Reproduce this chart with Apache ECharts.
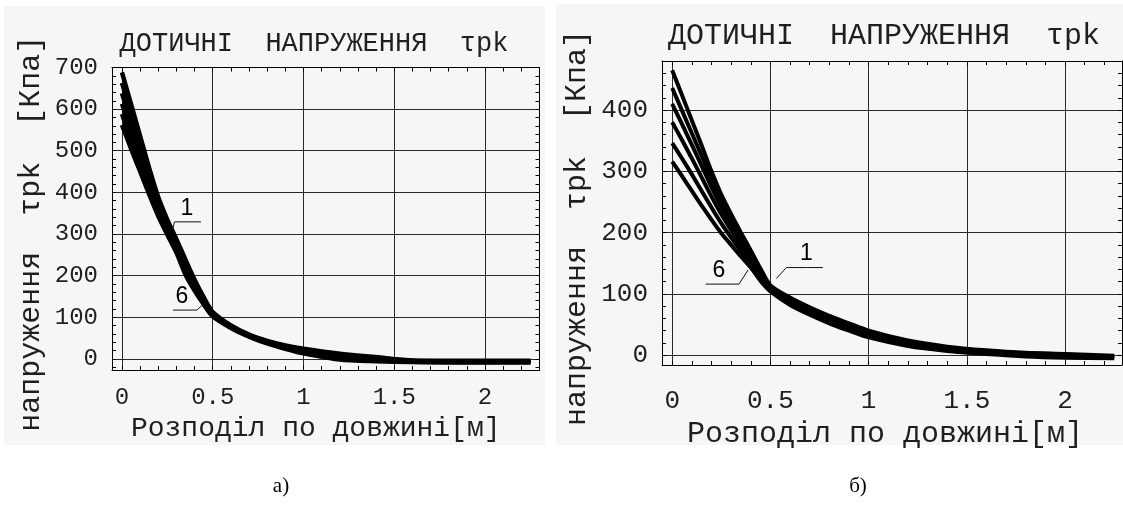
<!DOCTYPE html>
<html>
<head>
<meta charset="utf-8">
<title>Дотичні напруження τpk</title>
<script src="https://cdn.jsdelivr.net/npm/echarts@6/dist/echarts.min.js"></script>
<style>
  html, body { margin: 0; padding: 0; background: #ffffff; }
  #chart { width: 1123px; height: 509px; }
</style>
</head>
<body>
<div id="chart"></div>
<script>
// Position along the element, m (shared by every curve)
const dist = [0, 0.05, 0.1, 0.15, 0.2, 0.25, 0.3, 0.35, 0.4, 0.45, 0.5, 0.6, 0.7, 0.8, 0.9, 1.0, 1.2, 1.4, 1.6, 1.8, 2.0, 2.25];

// Panel а): tangential stress τpk, kPa, curves 1..6
const tauA1 = [688, 612, 535, 458, 388, 334, 287, 238, 190, 148, 112, 80, 58, 43, 32, 24, 12, 4, -4, -5, -5, -5];
const tauA2 = [663, 591, 519, 446, 379, 327, 281, 231, 184, 144, 110, 79, 57, 42, 30, 21, 8, 2, -5, -6, -6, -6];
const tauA3 = [638, 570, 502, 433, 369, 320, 274, 224, 178, 140, 108, 78, 56, 41, 28, 19, 5, 0, -6, -6, -7, -6];
const tauA4 = [613, 549, 485, 420, 360, 312, 267, 217, 173, 137, 106, 77, 55, 40, 27, 17, 2, -2, -6, -7, -7, -7];
const tauA5 = [588, 527, 468, 408, 351, 305, 261, 209, 168, 134, 104, 76, 54, 38, 25, 15, 0, -4, -7, -8, -8, -8];
const tauA6 = [562, 505, 450, 395, 343, 298, 255, 202, 164, 131, 102, 74, 53, 37, 24, 13, -2, -6, -8, -9, -9, -9];

// Panel б): tangential stress τpk, kPa, curves 1..6
const tauB1 = [465, 424, 383, 342, 300, 262, 230, 200, 171, 141, 114, 94, 78, 64, 52, 40, 24, 14, 8, 4, 2, -1];
const tauB2 = [436, 399, 362, 325, 287, 252, 222, 194, 166, 137, 112, 92, 76, 62, 50, 38, 22, 12, 7, 3, 1, -2];
const tauB3 = [410, 377, 343, 309, 274, 242, 214, 187, 161, 133, 110, 90, 74, 60, 47, 35, 20, 11, 5, 1, 0, -2];
const tauB4 = [380, 351, 321, 290, 259, 230, 204, 179, 155, 129, 108, 87, 71, 57, 45, 33, 18, 9, 4, 0, -2, -3];
const tauB5 = [346, 321, 295, 268, 241, 215, 192, 170, 149, 125, 106, 85, 69, 55, 42, 31, 17, 8, 3, -1, -3, -4];
const tauB6 = [316, 292, 268, 244, 221, 199, 180, 161, 143, 121, 104, 82, 66, 52, 40, 29, 15, 7, 2, -2, -4, -5];

// Curve-number callouts: leader polylines in data units, label on the marked vertex
const leaderA1 = [[0.278, 309], [0.289, 329], [0.358, 329], [0.435, 329]];
const leaderA6 = [[0.281, 117], [0.330, 117], [0.413, 117], [0.4625, 137]];
const leaderB6 = [[0.170, 116], [0.238, 116], [0.340, 116], [0.386, 139]];
const leaderB1 = [[0.530, 125], [0.581, 143], [0.683, 143], [0.767, 143]];

const titleText = 'ДОТИЧНІ  НАПРУЖЕННЯ  τpk';
const xName = 'Розподіл по довжині[м]';
const yName = 'напруження  τpk  [Кпа]';

const MONO = '"Liberation Mono", "DejaVu Sans Mono", monospace';
const INK = '#1f1f1f';

// Evenly spaced values for the fine tick marks along the frame
function steps(from, to, step) {
  const out = [];
  for (let v = from; v <= to + step / 1000; v += step) out.push(Math.round(v * 1000) / 1000);
  return out;
}
const fineTicksX = steps(0, 2.3, 0.1);
const fineTicksYA = steps(-20, 700, 20);
const fineTicksYB = steps(0, 480, 20);

function mainX(grid, min, max, labelSize, labelMargin, nameSize, nameGap, namePad) {
  return {
    type: 'value', gridIndex: grid, position: 'bottom', min: min, max: max, splitNumber: 5,
    axisLine: { show: true, onZero: false, lineStyle: { color: '#000', width: 1 } },
    axisTick: { show: false },
    splitLine: { show: true, lineStyle: { color: '#2a2a2a', width: 1 } },
    axisLabel: { show: true, showMinLabel: false, showMaxLabel: false, fontFamily: MONO,
                 fontSize: labelSize, color: INK, margin: labelMargin },
    name: xName, nameLocation: 'middle', nameGap: nameGap,
    nameTextStyle: { fontFamily: MONO, fontSize: nameSize, color: INK, padding: namePad }
  };
}
function mainY(grid, min, max, split, labelSize, labelMargin, nameSize, nameGap, namePad, hideMax) {
  return {
    type: 'value', gridIndex: grid, position: 'left', min: min, max: max, splitNumber: split,
    axisLine: { show: true, onZero: false, lineStyle: { color: '#000', width: 1 } },
    axisTick: { show: false },
    splitLine: { show: true, lineStyle: { color: '#2a2a2a', width: 1 } },
    axisLabel: { show: true, showMinLabel: false, showMaxLabel: !hideMax, fontFamily: MONO,
                 fontSize: labelSize, color: INK, margin: labelMargin },
    name: yName, nameLocation: 'middle', nameGap: nameGap, nameRotate: 90,
    nameTextStyle: { fontFamily: MONO, fontSize: nameSize, color: INK, padding: namePad }
  };
}
function frameAxis(grid, pos, min, max, ticks, showLine) {
  return {
    type: 'value', gridIndex: grid, position: pos, min: min, max: max,
    axisLine: { show: showLine, onZero: false, lineStyle: { color: '#000', width: 1 } },
    axisTick: { show: true, inside: true, length: 4, customValues: ticks, lineStyle: { color: '#000', width: 1 } },
    axisLabel: { show: false },
    splitLine: { show: false }
  };
}

function curve(values, xi, yi, width) {
  return {
    type: 'line', xAxisIndex: xi, yAxisIndex: yi,
    data: dist.map((d, i) => [d, values[i]]),
    showSymbol: false, symbol: 'none', smooth: 0.25,
    lineStyle: { color: '#000', width: width }, silent: true, z: 3
  };
}
function leader(points, labelIdx, text, xi, yi) {
  return {
    type: 'line', xAxisIndex: xi, yAxisIndex: yi, silent: true, z: 4,
    symbol: 'circle', symbolSize: 0, showSymbol: true,
    itemStyle: { color: '#111' },
    lineStyle: { color: '#111', width: 1 },
    label: { show: false },
    data: points.map((p, i) => i === labelIdx
      ? { value: p, label: { show: true, formatter: text, position: 'top', distance: 2,
          fontFamily: '"Liberation Sans", Arial, sans-serif', fontSize: 23, color: '#000' } }
      : { value: p })
  };
}

const chart = echarts.init(document.getElementById('chart'), null, { renderer: 'canvas' });

chart.setOption({
  backgroundColor: '#ffffff',
  animation: false,
  grid: [
    { left: 112, top: 67.5, width: 427.5, height: 302.5, containLabel: false },
    { left: 662, top: 61, width: 460, height: 304, containLabel: false }
  ],
  xAxis: [
    mainX(0, -0.055, 2.3, 24, 16, 28, 41, [0, 20, 0, 0]),
    frameAxis(0, 'top', -0.055, 2.3, fineTicksX, true),
    frameAxis(0, 'bottom', -0.055, 2.3, fineTicksX, false),
    mainX(1, -0.052, 2.29, 26, 23, 30, 42, [0, 14, 0, 0]),
    frameAxis(1, 'top', -0.052, 2.29, fineTicksX, true),
    frameAxis(1, 'bottom', -0.052, 2.29, fineTicksX, false)
  ],
  yAxis: [
    mainY(0, -27, 700, 7, 24, 14, 30, 66, [0, 30, 0, 0], false),
    frameAxis(0, 'right', -27, 700, fineTicksYA, true),
    frameAxis(0, 'left', -27, 700, fineTicksYA, false),
    mainY(1, -16, 480, 5, 26, 14, 30, 70, [0, 30, 0, 0], true),
    frameAxis(1, 'right', -16, 480, fineTicksYB, true),
    frameAxis(1, 'left', -16, 480, fineTicksYB, false)
  ],
  series: [
    curve(tauA1, 0, 0, 4.5), curve(tauA2, 0, 0, 4.5), curve(tauA3, 0, 0, 4.5),
    curve(tauA4, 0, 0, 4.5), curve(tauA5, 0, 0, 4.5), curve(tauA6, 0, 0, 4.5),
    curve(tauB1, 3, 3, 4), curve(tauB2, 3, 3, 4), curve(tauB3, 3, 3, 4),
    curve(tauB4, 3, 3, 4), curve(tauB5, 3, 3, 4), curve(tauB6, 3, 3, 4),
    leader(leaderA1, 2, '1', 0, 0),
    leader(leaderA6, 1, '6', 0, 0),
    leader(leaderB6, 1, '6', 3, 3),
    leader(leaderB1, 2, '1', 3, 3)
  ],
  graphic: [
    { type: 'rect', z: -100, silent: true, shape: { x: 4, y: 6, width: 541, height: 439 }, style: { fill: '#f6f6f6' } },
    { type: 'rect', z: -100, silent: true, shape: { x: 556, y: 4, width: 567, height: 441 }, style: { fill: '#f6f6f6' } },
    { type: 'text', x: 314, y: 44, silent: true,
      style: { text: titleText, fontFamily: MONO, fontSize: 27, fill: INK, textAlign: 'center', textVerticalAlign: 'middle' } },
    { type: 'text', x: 884, y: 36, silent: true,
      style: { text: titleText, fontFamily: MONO, fontSize: 30, fill: INK, textAlign: 'center', textVerticalAlign: 'middle' } },
    { type: 'text', x: 281, y: 486, silent: true,
      style: { text: 'а)', fontFamily: '"Liberation Serif", "Times New Roman", serif', fontSize: 21, fill: '#000', textAlign: 'center', textVerticalAlign: 'middle' } },
    { type: 'text', x: 858, y: 486, silent: true,
      style: { text: 'б)', fontFamily: '"Liberation Serif", "Times New Roman", serif', fontSize: 21, fill: '#000', textAlign: 'center', textVerticalAlign: 'middle' } }
  ]
});
</script>
</body>
</html>
